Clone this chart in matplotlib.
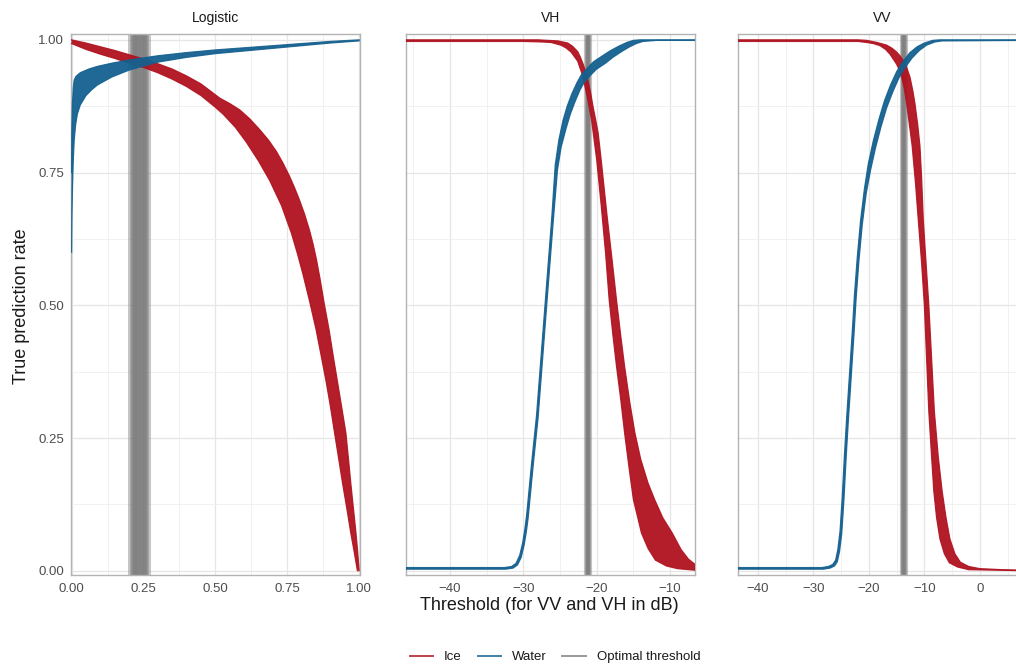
"""
plot.py - true prediction rate vs threshold for Ice / Water, three facets.
Writes out.png (1016x664).
"""
import numpy as np
import matplotlib
matplotlib.use("Agg")
import matplotlib.pyplot as plt
from matplotlib.lines import Line2D

RED, BLUE, GREY = "#B0121F", "#14608F", "#7F7F7F"
plt.rcParams["font.family"] = ["Liberation Sans", "DejaVu Sans"]

# ---------- data (edges of the bootstrap curve bands) ----------
# Logistic
ice_log_hi_x = [0.000, 0.050, 0.100, 0.150, 0.200, 0.250, 0.300, 0.350, 0.400, 0.450, 0.516, 0.550, 0.585, 0.620, 0.654, 0.685, 0.712,
                0.735, 0.758, 0.775, 0.792, 0.810, 0.827, 0.840, 0.852, 0.864, 0.878, 0.896, 0.910, 0.925, 0.940, 0.954, 0.963,
                0.971, 0.980, 0.989, 0.995, 1.000]
ice_log_hi_y = [1.000, 0.994, 0.987, 0.980, 0.972, 0.964, 0.955, 0.945, 0.932, 0.917, 0.890, 0.880, 0.868, 0.851, 0.831, 0.811, 0.790,
                0.768, 0.743, 0.722, 0.699, 0.672, 0.642, 0.615, 0.585, 0.550, 0.505, 0.452, 0.404, 0.355, 0.306, 0.259, 0.210,
                0.165, 0.118, 0.071, 0.035, 0.000]
ice_log_lo_x = [0.000, 0.050, 0.100, 0.150, 0.200, 0.250, 0.300, 0.350, 0.400, 0.450, 0.500, 0.527, 0.570, 0.608, 0.650, 0.689, 0.730,
                0.765, 0.785, 0.804, 0.828, 0.850, 0.868, 0.885, 0.900, 0.913, 0.928, 0.942, 0.957, 0.971, 0.983, 0.994]
ice_log_lo_y = [0.993, 0.982, 0.973, 0.965, 0.956, 0.948, 0.938, 0.926, 0.912, 0.895, 0.873, 0.860, 0.835, 0.807, 0.772, 0.735, 0.688,
                0.635, 0.598, 0.560, 0.507, 0.455, 0.405, 0.357, 0.310, 0.265, 0.214, 0.166, 0.118, 0.071, 0.035, 0.000]
wat_log_hi_x = [0.000, 0.001, 0.003, 0.006, 0.009, 0.015, 0.030, 0.060, 0.090, 0.140, 0.200, 0.300, 0.400, 0.500, 0.600, 0.700, 0.800,
                0.900, 1.000]
wat_log_hi_y = [0.750, 0.830, 0.880, 0.910, 0.924, 0.931, 0.938, 0.945, 0.950, 0.956, 0.962, 0.970, 0.976, 0.981, 0.985, 0.989, 0.993,
                0.997, 1.000]
wat_log_lo_x = [0.000, 0.001, 0.003, 0.006, 0.009, 0.014, 0.020, 0.030, 0.050, 0.070, 0.090, 0.140, 0.200, 0.300, 0.400, 0.500, 0.600,
                0.700, 0.800, 0.900, 1.000]
wat_log_lo_y = [0.600, 0.660, 0.720, 0.775, 0.810, 0.840, 0.860, 0.877, 0.895, 0.906, 0.915, 0.930, 0.943, 0.958, 0.967, 0.974, 0.979,
                0.984, 0.989, 0.994, 0.998]
thr_log = [0.208, 0.212, 0.216, 0.220, 0.224, 0.228, 0.232, 0.236, 0.240, 0.244, 0.248, 0.252, 0.256, 0.260, 0.266]

# VH (dB)
ice_vh_hi_x = [-46.0, -28.0, -26.7, -25.3, -23.95, -23.3, -22.6, -22.25, -21.9, -21.55, -21.2, -20.85, -20.5, -20.15, -19.8, -19.4,
               -18.6, -17.9, -17.3, -16.7, -16.2, -15.5, -14.8, -14.0, -13.0, -12.1, -11.0, -9.7, -8.5, -7.5, -6.6]
ice_vh_hi_y = [1.000, 1.000, 0.999, 0.998, 0.994, 0.988, 0.978, 0.968, 0.956, 0.942, 0.924, 0.902, 0.874, 0.850, 0.824, 0.775,
               0.670, 0.585, 0.510, 0.440, 0.385, 0.318, 0.260, 0.210, 0.165, 0.134, 0.100, 0.071, 0.040, 0.022, 0.012]
ice_vh_lo_x = [-46.0, -30.0, -27.5, -26.2, -24.9, -24.2, -23.5, -22.6, -21.9, -21.3, -20.7, -20.0, -19.4, -18.8, -18.3, -17.8,
               -17.3, -16.7, -16.2, -15.6, -15.0, -14.4, -13.9, -13.0, -12.0, -10.5, -9.0, -6.6]
ice_vh_lo_y = [0.997, 0.997, 0.996, 0.995, 0.990, 0.985, 0.977, 0.960, 0.932, 0.893, 0.849, 0.774, 0.690, 0.600, 0.510, 0.445,
               0.385, 0.320, 0.260, 0.195, 0.134, 0.100, 0.071, 0.042, 0.020, 0.009, 0.004, 0.001]
wat_vh_hi_x = [-46.0, -32.6, -31.6, -31.0, -30.5, -30.1, -29.8, -29.55, -28.9, -28.2, -27.5, -26.8, -26.1, -25.65, -25.15, -24.6,
               -24.0, -23.4, -22.7, -22.1, -21.2, -20.4, -19.2, -18.2, -17.0, -15.9, -15.0, -14.1, -12.2, -6.6]
wat_vh_hi_y = [0.006, 0.006, 0.008, 0.014, 0.029, 0.052, 0.078, 0.105, 0.199, 0.293, 0.419, 0.545, 0.670, 0.765, 0.812, 0.848,
               0.876, 0.898, 0.919, 0.934, 0.948, 0.959, 0.970, 0.979, 0.988, 0.995, 0.999, 1.000, 1.000, 1.000]
wat_vh_lo_x = [-46.0, -32.4, -31.4, -30.8, -30.3, -29.9, -29.6, -29.35, -28.7, -28.0, -27.3, -26.6, -25.9, -25.35, -24.85, -24.2,
               -23.6, -23.0, -22.3, -21.7, -20.8, -20.0, -18.8, -17.8, -16.6, -15.5, -14.6, -13.7, -11.8, -6.6]
wat_vh_lo_y = [0.003, 0.003, 0.005, 0.011, 0.025, 0.048, 0.073, 0.099, 0.193, 0.287, 0.413, 0.539, 0.663, 0.755, 0.798, 0.832,
               0.860, 0.882, 0.905, 0.920, 0.934, 0.945, 0.956, 0.967, 0.978, 0.987, 0.993, 0.997, 0.999, 0.999]
thr_vh = [-21.45, -21.35, -21.25, -21.2, -21.15, -21.05, -20.95]

# VV (dB)
ice_vv_hi_x = [-43.6, -22.0, -20.4, -18.5, -16.8, -15.8, -15.0, -14.4, -13.8, -13.2, -12.6, -12.1, -11.7, -11.2, -10.8, -10.5,
               -10.2, -9.7, -9.2, -8.7, -8.2, -7.5, -6.8, -6.1, -5.4, -4.5, -3.5, -2.0, 0.0, 4.0, 8.5]
ice_vv_hi_y = [1.000, 1.000, 0.999, 0.995, 0.990, 0.984, 0.977, 0.970, 0.961, 0.948, 0.930, 0.905, 0.880, 0.840, 0.800, 0.740,
               0.661, 0.580, 0.500, 0.400, 0.300, 0.215, 0.150, 0.100, 0.060, 0.032, 0.016, 0.008, 0.004, 0.002, 0.001]
ice_vv_lo_x = [-43.6, -22.0, -20.4, -19.2, -18.0, -17.0, -16.2, -15.5, -15.0, -14.5, -14.1, -13.6, -13.2, -12.7, -12.2, -11.6,
               -11.1, -10.5, -10.0, -9.6, -9.2, -8.7, -8.3, -7.8, -7.2, -6.4, -5.5, -4.0, -2.0, 8.5]
ice_vv_lo_y = [0.997, 0.997, 0.995, 0.993, 0.989, 0.982, 0.973, 0.962, 0.954, 0.943, 0.930, 0.907, 0.880, 0.840, 0.800, 0.730,
               0.661, 0.580, 0.500, 0.400, 0.300, 0.215, 0.150, 0.100, 0.060, 0.032, 0.015, 0.007, 0.002, 0.000]
wat_vv_hi_x = [-43.6, -28.5, -27.3, -26.5, -26.0, -25.6, -25.2, -24.8, -24.4, -24.0, -23.5, -23.0, -22.6, -22.1, -21.5, -20.8,
               -20.1, -19.2, -18.2, -17.2, -16.1, -15.0, -13.8, -12.6, -11.3, -10.0, -8.5, -7.2, 8.5]
wat_vv_hi_y = [0.006, 0.006, 0.008, 0.012, 0.020, 0.040, 0.075, 0.140, 0.220, 0.290, 0.370, 0.450, 0.520, 0.590, 0.660, 0.720,
               0.767, 0.810, 0.850, 0.885, 0.915, 0.940, 0.960, 0.976, 0.987, 0.994, 0.999, 1.000, 1.000]
wat_vv_lo_x = [-43.6, -28.2, -27.0, -26.2, -25.7, -25.3, -24.9, -24.5, -24.1, -23.7, -23.2, -22.7, -22.3, -21.8, -21.2, -20.5,
               -19.7, -18.8, -17.8, -16.8, -15.7, -14.6, -13.4, -12.2, -10.9, -9.6, -8.1, -6.8, 8.5]
wat_vv_lo_y = [0.003, 0.003, 0.005, 0.009, 0.017, 0.036, 0.070, 0.134, 0.214, 0.284, 0.364, 0.444, 0.514, 0.584, 0.652, 0.710,
               0.755, 0.797, 0.837, 0.872, 0.902, 0.928, 0.949, 0.966, 0.980, 0.990, 0.996, 0.998, 0.999]
thr_vv = [-14.0, -13.9, -13.8, -13.7, -13.6, -13.5, -13.4]

panels = [
    dict(title="Logistic", xlim=(-0.002, 1.003), major=[0, 0.25, 0.5, 0.75, 1.0],
         minor=[0.125, 0.375, 0.625, 0.875],
         labels=["0.00", "0.25", "0.50", "0.75", "1.00"],
         ice=(ice_log_hi_x, ice_log_hi_y, ice_log_lo_x, ice_log_lo_y),
         wat=(wat_log_hi_x, wat_log_hi_y, wat_log_lo_x, wat_log_lo_y),
         thr=thr_log, thr_lw=4.3, left=71),
    dict(title="VH", xlim=(-46.0, -6.6), major=[-40, -30, -20, -10],
         minor=[-45, -35, -25, -15],
         labels=["\u221240", "\u221230", "\u221220", "\u221210"],
         ice=(ice_vh_hi_x, ice_vh_hi_y, ice_vh_lo_x, ice_vh_lo_y),
         wat=(wat_vh_hi_x, wat_vh_hi_y, wat_vh_lo_x, wat_vh_lo_y),
         thr=thr_vh, thr_lw=3.0, left=406),
    dict(title="VV", xlim=(-43.6, 8.5), major=[-40, -30, -20, -10, 0],
         minor=[-35, -25, -15, -5, 5],
         labels=["\u221240", "\u221230", "\u221220", "\u221210", "0"],
         ice=(ice_vv_hi_x, ice_vv_hi_y, ice_vv_lo_x, ice_vv_lo_y),
         wat=(wat_vv_hi_x, wat_vv_hi_y, wat_vv_lo_x, wat_vv_lo_y),
         thr=thr_vv, thr_lw=3.0, left=738),
]

W, H = 1016, 664
fig = plt.figure(figsize=(W / 100, H / 100), dpi=100)


def band(ax, edges, color):
    hx, hy, lx, ly = (np.asarray(e, float) for e in edges)
    ax.fill(np.r_[hx, lx[::-1]], np.r_[hy, ly[::-1]], color=color, lw=0, alpha=0.95, zorder=3)
    for ex, ey in ((hx, hy), (lx, ly)):
        ax.plot(ex, ey, color=color, lw=0.9, alpha=0.9, zorder=3, solid_joinstyle="round")


for k, p in enumerate(panels):
    ax = fig.add_axes([p["left"] / W, 89 / H, 289 / W, 541 / H])
    ax.set_xlim(*p["xlim"])
    ax.set_ylim(-0.008, 1.011)

    ax.set_xticks(p["major"])
    ax.set_xticklabels(p["labels"])
    ax.set_xticks(p["minor"], minor=True)
    ax.set_yticks([0, 0.25, 0.5, 0.75, 1.0])
    ax.set_yticks([0.125, 0.375, 0.625, 0.875], minor=True)
    if k == 0:
        ax.set_yticklabels(["0.00", "0.25", "0.50", "0.75", "1.00"])
    else:
        ax.set_yticklabels([])
    ax.tick_params(which="both", length=0, labelsize=9.5, labelcolor="#4D4D4D")
    ax.tick_params(axis="x", pad=6)
    ax.tick_params(axis="y", pad=5)
    ax.grid(which="major", color="#E6E6E6", lw=0.9, zorder=0)
    ax.grid(which="minor", color="#EFEFEF", lw=0.6, zorder=0)
    ax.set_axisbelow(True)
    for s in ax.spines.values():
        s.set_color("#B3B3B3")
        s.set_linewidth(1.0)

    # optimal thresholds, one thin line per resample
    for t in p["thr"]:
        ax.axvline(t, color=GREY, lw=p["thr_lw"], alpha=0.45, zorder=2)

    band(ax, p["ice"], RED)
    band(ax, p["wat"], BLUE)

    ax.text(0.5, 1.03, p["title"], transform=ax.transAxes, ha="center", va="center",
            fontsize=10, color="#1A1A1A")

fig.text(22 / W, 1 - 306 / H, "True prediction rate", rotation=90, ha="center",
         va="center", fontsize=13, color="#1A1A1A")
fig.text(549 / W, 1 - 606 / H, "Threshold (for VV and VH in dB)", ha="center",
         va="center", fontsize=13, color="#1A1A1A")

handles = [
    Line2D([0], [0], color=RED, lw=1.4, alpha=0.8, label="Ice"),
    Line2D([0], [0], color=BLUE, lw=1.4, alpha=0.8, label="Water"),
    Line2D([0], [0], color=GREY, lw=1.4, alpha=0.8, label="Optimal threshold"),
]
fig.legend(handles=handles, loc="center", bbox_to_anchor=(555 / W, 7 / H), ncol=3,
           frameon=False, fontsize=9.5, handlelength=1.8, handletextpad=0.8,
           columnspacing=1.2, labelcolor="#1A1A1A")

fig.savefig("out.png", dpi=100)
plt.close(fig)
